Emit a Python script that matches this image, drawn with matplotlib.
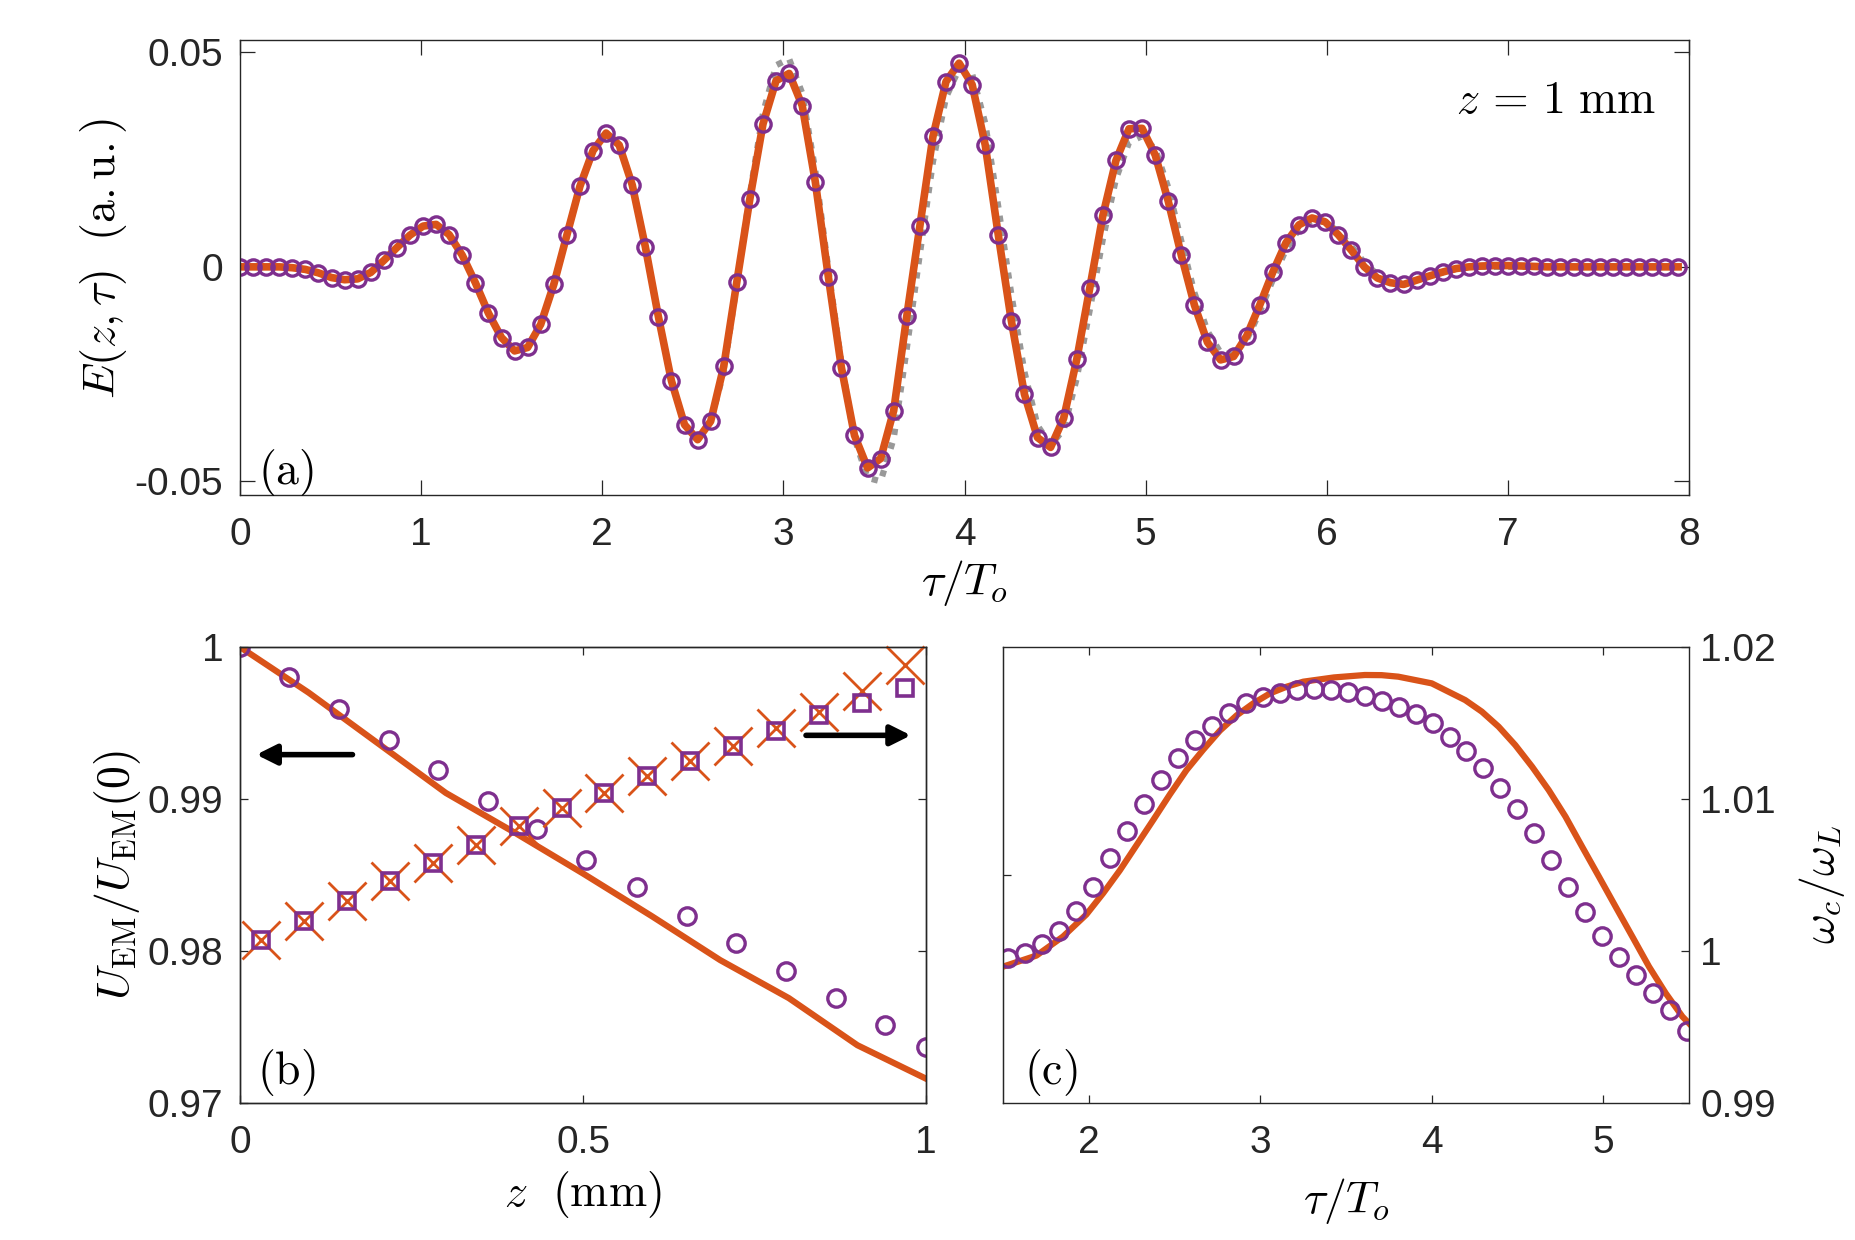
import numpy as np
import matplotlib
matplotlib.use('Agg')
import matplotlib.pyplot as plt

plt.rcParams['font.family'] = ['Liberation Sans', 'DejaVu Sans']
plt.rcParams['mathtext.fontset'] = 'cm'

orange = '#D95319'
purple = '#7E2F8E'
grey = '#999999'
axcol = '#262626'

# ---- (a) field at z = 1 mm ----
tau_a = np.linspace(0, 7.94, 111)
e_field = [0, 0, 0, 0, -0.0002, -0.0006, -0.0014, -0.0025, -0.0030, -0.0028,
           -0.0013, 0.0015, 0.0045, 0.0074, 0.0095, 0.0099, 0.0075, 0.0027, -0.0037, -0.0108,
           -0.0165, -0.0196, -0.0188, -0.0134, -0.0041, 0.0074, 0.0188, 0.0271, 0.0312, 0.0284,
           0.0191, 0.0047, -0.0116, -0.0266, -0.0368, -0.0403, -0.0360, -0.0232, -0.0035, 0.0159,
           0.0333, 0.0434, 0.0451, 0.0376, 0.0199, -0.0023, -0.0235, -0.0393, -0.0469, -0.0447,
           -0.0335, -0.0115, 0.0095, 0.0304, 0.0432, 0.0475, 0.0425, 0.0284, 0.0074, -0.0126,
           -0.0297, -0.0398, -0.0421, -0.0353, -0.0216, -0.0049, 0.0120, 0.0248, 0.0322, 0.0323,
           0.0261, 0.0153, 0.0027, -0.0089, -0.0176, -0.0217, -0.0209, -0.0161, -0.0089, -0.0012,
           0.0056, 0.0098, 0.0114, 0.0105, 0.0075, 0.0039, 0.0000, -0.0026, -0.0037, -0.0041,
           -0.0031, -0.0021, -0.0012, -0.0004, 0.0000, 0.0002, 0.0003, 0.0003, 0.0002, 0.0001,
           0, 0, 0, 0, 0, 0, 0, 0, 0, 0, 0]
e_ref = [0, 0, 0, 0, -0.0002, -0.0006, -0.0014, -0.0025, -0.0030, -0.0028,
         -0.0013, 0.0015, 0.0045, 0.0074, 0.0095, 0.0099, 0.0075, 0.0027, -0.0037, -0.0108,
         -0.0165, -0.0196, -0.0188, -0.0134, -0.0041, 0.0074, 0.0188, 0.0271, 0.0312, 0.0284,
         0.0191, 0.0047, -0.0116, -0.0266, -0.0368, -0.0403, -0.0360, -0.0245, -0.0040, 0.0170,
         0.0358, 0.0470, 0.0485, 0.0405, 0.0225, -0.0005, -0.0225, -0.0400, -0.0492, -0.0500,
         -0.0400, -0.0190, 0.0030, 0.0245, 0.0395, 0.0462, 0.0450, 0.0335, 0.0140, -0.0065,
         -0.0245, -0.0370, -0.0415, -0.0380, -0.0260, -0.0100, 0.0065, 0.0205, 0.0290, 0.0305,
         0.0275, 0.0185, 0.0060, -0.0060, -0.0150, -0.0200, -0.0205, -0.0170, -0.0105, -0.0030,
         0.0040, 0.0088, 0.0108, 0.0105, 0.0082, 0.0048, 0.0010, -0.0018, -0.0033, -0.0038,
         -0.0032, -0.0022, -0.0013, -0.0005, 0, 0, 0, 0, 0, 0,
         0, 0, 0, 0, 0, 0, 0, 0, 0, 0, 0]

# ---- (b) energy vs z ----
z_line = [0, 0.1, 0.2, 0.3, 0.4, 0.5, 0.6, 0.7, 0.8, 0.9, 1.0]
u_line = [1.0, 0.9970, 0.9937, 0.9904, 0.9878, 0.9851, 0.9823, 0.9794, 0.9769, 0.9738, 0.9716]
z_circ = [0, 0.0715, 0.1448, 0.2172, 0.2887, 0.3610, 0.4334, 0.5049, 0.5782, 0.6515,
          0.7230, 0.7962, 0.8686, 0.9401, 1.0]
u_circ = [1.0, 0.9980, 0.9959, 0.9939, 0.9919, 0.9899, 0.9880, 0.9860, 0.9842, 0.9823,
          0.9805, 0.9787, 0.9769, 0.9751, 0.9737]
z_sq = [0.03125, 0.09375, 0.15625, 0.21875, 0.28125, 0.34375, 0.40625, 0.46875,
        0.53125, 0.59375, 0.65625, 0.71875, 0.78125, 0.84375, 0.90625, 0.96875]
w_sq = [1.0007, 1.0020, 1.0033, 1.0046, 1.0058, 1.0070, 1.0082, 1.0094,
        1.0104, 1.0115, 1.0125, 1.0135, 1.0145, 1.0155, 1.0163, 1.0173]
w_x = [1.0007, 1.0020, 1.0033, 1.0046, 1.0058, 1.0070, 1.0082, 1.0094,
       1.0104, 1.0115, 1.0125, 1.0135, 1.0147, 1.0157, 1.0171, 1.0188]

# ---- (c) central frequency ----
tau_c_line = [1.5, 1.695, 1.850, 1.986, 2.084, 2.181, 2.278, 2.376, 2.473, 2.570,
              2.668, 2.765, 2.862, 2.959, 3.057, 3.154, 3.251, 3.43, 3.610, 3.708,
              3.805, 4.0, 4.195, 4.292, 4.390, 4.487, 4.585, 4.682, 4.780, 4.877,
              4.975, 5.072, 5.170, 5.267, 5.365, 5.462, 5.5]
w_line = [0.99897, 0.99970, 1.00095, 1.00240, 1.00380, 1.00530, 1.00695, 1.00862,
          1.01030, 1.01190, 1.01325, 1.01450, 1.01550, 1.01629, 1.01695, 1.01739,
          1.01772, 1.01800, 1.01816, 1.01815, 1.01805, 1.01761, 1.01651, 1.01575,
          1.01476, 1.01355, 1.01213, 1.01059, 1.00884, 1.00686, 1.00489, 1.00292,
          1.00094, 0.99897, 0.99721, 0.99568, 0.99524]
tau_c_circ = np.linspace(1.529, 5.49, 41)
w_circ = [0.99952, 0.99985, 1.00046, 1.00134, 1.00265, 1.00423, 1.00610, 1.00792,
          1.00965, 1.01125, 1.01268, 1.01388, 1.01480, 1.01564, 1.01629, 1.01673,
          1.01700, 1.01717, 1.01722, 1.01717, 1.01702, 1.01680, 1.01647, 1.01607,
          1.01559, 1.01498, 1.01410, 1.01318, 1.01206, 1.01075, 1.00932, 1.00774,
          1.00599, 1.00423, 1.00254, 1.00101, 0.99963, 0.99842, 0.99726, 0.99612, 0.99476]

fs_tick = 28
fs_lab = 33


def style(ax, ticklen):
    for s in ax.spines.values():
        s.set_color(axcol)
        s.set_linewidth(1.0)
    ax.tick_params(direction='in', length=ticklen, width=0.9, color=axcol,
                   labelcolor=axcol, labelsize=fs_tick, top=True, right=True, pad=12)
    ax.tick_params(axis='x', pad=16)


fig = plt.figure(figsize=(18.55, 12.40), dpi=100)

# panel (a)
ax = fig.add_axes([0.1294, 0.6008, 0.7811, 0.3673])
ax.plot(tau_a, e_ref, color=grey, lw=4.5, ls=(0, (1, 1.3)))
ax.plot(tau_a, e_field, '-', color=orange, lw=5.5)
ax.plot(tau_a, e_field, 'o', mfc='none', mec=purple, ms=11, mew=2.4)
ax.set_xlim(0, 8)
ax.set_ylim(-0.0532, 0.053)
ax.set_xticks(range(9))
ax.set_yticks([-0.05, 0, 0.05])
ax.set_yticklabels(['-0.05', '0', '0.05'])
style(ax, 11)
ax.set_xlabel(r'$\tau/T_o$', fontsize=fs_lab, va='center')
ax.xaxis.set_label_coords(0.5, -0.193)
ax.set_ylabel(r'$E(z,\tau)\ \ (\mathrm{a.u.})$', fontsize=fs_lab, va='center')
ax.yaxis.set_label_coords(-0.094, 0.52)
ax.text(0.908, 0.866, r'$z\, =\, 1\ \mathrm{mm}$', transform=ax.transAxes,
        fontsize=fs_lab, ha='center', va='center')
ax.text(0.032, 0.05, r'$\mathrm{(a)}$', transform=ax.transAxes,
        fontsize=fs_lab, ha='center', va='center')

# panel (b)
axb = fig.add_axes([0.1294, 0.1105, 0.3698, 0.3677])
axb.plot(z_line, u_line, '-', color=orange, lw=4.5)
axb.plot(z_circ, u_circ, 'o', mfc='none', mec=purple, ms=12.5, mew=2.4)
axb.set_xlim(0, 1)
axb.set_ylim(0.97, 1.0)
axb.set_xticks([0, 0.5, 1])
axb.set_xticklabels(['0', '0.5', '1'])
axb.set_yticks([0.97, 0.98, 0.99, 1.0])
axb.set_yticklabels(['0.97', '0.98', '0.99', '1'])
style(axb, 6)
axb.tick_params(right=False)
axb.set_xlabel(r'$z\ \ (\mathrm{mm})$', fontsize=fs_lab, va='center')
axb.xaxis.set_label_coords(0.5, -0.2)
axb.set_ylabel(r'$U_{\mathrm{EM}}/U_{\mathrm{EM}}(0)$', fontsize=fs_lab, va='center')
axb.yaxis.set_label_coords(-0.178, 0.5)
axb.text(0.067, 0.066, r'$\mathrm{(b)}$', transform=axb.transAxes,
         fontsize=fs_lab, ha='center', va='center')
axb.annotate('', xy=(0.0197, 0.99292), xytext=(0.168, 0.99292),
             arrowprops=dict(arrowstyle='-|>', lw=4, color='k', mutation_scale=30))

axb2 = axb.twinx()
axb2.set_ylim(0.99, 1.02)
axb2.plot(z_sq, w_x, 'x', color=orange, ms=28, mew=2.0, clip_on=False)
axb2.plot(z_sq, w_sq, 's', mfc='none', mec=purple, ms=11.5, mew=2.6)
axb2.set_yticks([1.0, 1.01])
axb2.tick_params(direction='in', length=6, width=0.9, color=axcol, labelright=False)
for s in axb2.spines.values():
    s.set_color(axcol)
    s.set_linewidth(1.0)
axb2.annotate('', xy=(0.982, 1.01419), xytext=(0.821, 1.01419),
              arrowprops=dict(arrowstyle='-|>', lw=4, color='k', mutation_scale=30))

# panel (c)
axc = fig.add_axes([0.5407, 0.1105, 0.3698, 0.3677])
axc.plot(tau_c_line, w_line, '-', color=orange, lw=4.5)
axc.plot(tau_c_circ, w_circ, 'o', mfc='none', mec=purple, ms=12.5, mew=2.4)
axc.set_xlim(1.5, 5.5)
axc.set_ylim(0.99, 1.02)
axc.set_xticks([2, 3, 4, 5])
axc.set_yticks([0.99, 1.0, 1.01, 1.02])
axc.set_yticklabels(['0.99', '1', '1.01', '1.02'])
style(axc, 6)
axc.tick_params(left=False, labelleft=False, labelright=True, pad=8)
axc.tick_params(axis='x', pad=16)
axc.yaxis.set_label_position('right')
axc.set_ylabel(r'$\omega_c/\omega_L$', fontsize=fs_lab, rotation=90, va='center')
axc.yaxis.set_label_coords(1.194, 0.48)
axc.set_xlabel(r'$\tau/T_o$', fontsize=fs_lab, va='center')
axc.xaxis.set_label_coords(0.5, -0.215)
axc.text(0.069, 0.066, r'$\mathrm{(c)}$', transform=axc.transAxes,
         fontsize=fs_lab, ha='center', va='center')
sec = axc.secondary_yaxis('left')
sec.set_yticks([1.005])
sec.tick_params(direction='in', length=6, width=0.9, color=axcol, labelleft=False)
sec.spines['left'].set_color(axcol)

fig.savefig('out.png', dpi=100)
